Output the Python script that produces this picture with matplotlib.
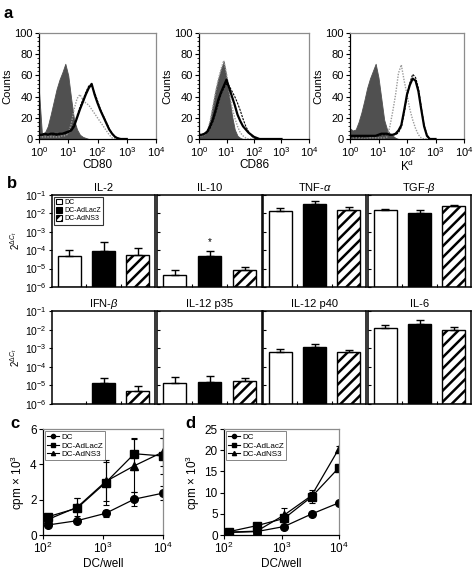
import numpy as np
import matplotlib

matplotlib.use("Agg")

import matplotlib.pyplot as plt
from matplotlib.patches import Patch
from matplotlib.lines import Line2D
from matplotlib.ticker import MultipleLocator, LogLocator, NullFormatter, FixedLocator

plt.rcParams["font.family"] = ["Liberation Sans", "DejaVu Sans"]
plt.rcParams["mathtext.fontset"] = "custom"
plt.rcParams["mathtext.rm"] = "Liberation Sans"
plt.rcParams["mathtext.it"] = "Liberation Sans:italic"
plt.rcParams["mathtext.bf"] = "Liberation Sans:bold"
plt.rcParams["hatch.linewidth"] = 1.8
plt.rcParams["axes.linewidth"] = 0.9

W, H = 474, 570

# ---------------- panel a: flow histograms ----------------
CHANNEL_LOG = [0.0, 0.1, 0.2, 0.3, 0.4, 0.5, 0.6, 0.7, 0.8, 0.9, 1.0,
               1.1, 1.2, 1.3, 1.4, 1.5, 1.6, 1.7, 1.8, 1.9, 2.0,
               2.1, 2.2, 2.3, 2.4, 2.5, 2.6, 2.7, 2.8, 2.9, 3.0]
MARKERS_A = ["CD80", "CD86", r"K$^{\rm d}$"]

CD80_ISO = [45, 5, 6, 12, 23, 35, 47, 56, 63, 71, 60, 38, 18, 9, 4, 2, 1,
            0, 0, 0, 0, 0, 0, 0, 0, 0, 0, 0, 0, 0, 0]
CD80_DC = [2, 2, 2, 2, 2, 2, 2, 2, 3, 3, 5, 14, 28, 38, 42, 37, 34, 32, 28,
           24, 20, 16, 12, 8, 4, 1, 0, 0, 0, 0, 0]
CD80_LACZ = [3, 4, 4, 5, 4, 4, 5, 4, 5, 5, 6, 9, 14, 22, 30, 37, 44, 50, 50,
             44, 36, 28, 22, 16, 10, 5, 2, 1, 0, 0, 0]
CD80_NS3 = [4, 4, 5, 4, 5, 5, 4, 5, 5, 6, 7, 8, 12, 20, 28, 35, 42, 48, 52,
            42, 34, 27, 21, 15, 9, 5, 2, 0.5, 0, 0, 0]

CD86_ISO = [3, 4, 5, 8, 18, 32, 46, 57, 66, 73, 58, 40, 22, 9, 3, 1, 0,
            0, 0, 0, 0, 0, 0, 0, 0, 0, 0, 0, 0, 0, 0]
CD86_DC = [2, 3, 4, 7, 16, 30, 44, 56, 66, 74, 62, 45, 30, 20, 12, 6, 3, 1,
           0, 0, 0, 0, 0, 0, 0, 0, 0, 0, 0, 0, 0]
CD86_LACZ = [3, 4, 5, 6, 10, 16, 24, 33, 42, 48, 52, 50, 45, 40, 34, 27, 19,
             12, 7, 3, 1, 0, 0, 0, 0, 0, 0, 0, 0, 0, 0]
CD86_NS3 = [4, 4, 5, 7, 12, 18, 27, 37, 44, 50, 56, 48, 40, 32, 23, 17, 12,
            9, 6, 4, 2, 1, 0, 0, 0, 0, 0, 0, 0, 0, 0]

KD_ISO = [10, 8, 9, 16, 25, 36, 48, 57, 64, 71, 58, 38, 18, 9, 5, 3, 1, 0,
          0, 0, 0, 0, 0, 0, 0, 0, 0, 0, 0, 0, 0]
KD_DC = [1, 1, 1, 1, 1, 1, 1, 1, 1, 1, 1, 1, 1, 2, 12, 26, 42, 62, 70, 55,
         42, 28, 18, 10, 4, 1, 0, 0, 0, 0, 0]
KD_LACZ = [2, 2, 2, 2, 2, 2, 2, 3, 3, 3, 3, 4, 4, 4, 4, 4, 4, 6, 11, 24, 40,
           53, 61, 58, 48, 30, 13, 4, 0, 0, 0]
KD_NS3 = [3, 3, 3, 3, 3, 3, 3, 3, 3, 3, 4, 5, 5, 5, 4, 4, 5, 8, 13, 27, 42,
          51, 57, 55, 45, 28, 12, 3, 0, 0, 0]

# ---------------- panel b: cytokine mRNA ----------------
CYTOKINES = ["IL-2", "IL-10", r"TNF-$\alpha$", r"TGF-$\beta$",
             r"IFN-$\beta$", "IL-12 p35", "IL-12 p40", "IL-6"]
GROUPS = ["DC", "DC-AdLacZ", "DC-AdNS3"]
DC_MEAN = [4.9e-5, 4.6e-6, 1.3e-2, 1.6e-2, np.nan, 1.4e-5, 6.1e-4, 1.2e-2]
DC_UPPER = [1.0e-4, 8.5e-6, 2.0e-2, 1.8e-2, np.nan, 2.8e-5, 9.3e-4, 1.8e-2]
LACZ_MEAN = [9.0e-5, 5.0e-5, 3.2e-2, 1.07e-2, 1.4e-5, 1.5e-5, 1.1e-3, 2.1e-2]
LACZ_UPPER = [2.7e-4, 9.0e-5, 5.0e-2, 1.6e-2, 2.6e-5, 3.3e-5, 1.6e-3, 3.2e-2]
NS3_MEAN = [5.5e-5, 8.5e-6, 1.6e-2, 2.5e-2, 5.2e-6, 1.7e-5, 5.9e-4, 9.6e-3]
NS3_UPPER = [1.4e-4, 1.3e-5, 2.2e-2, 3.0e-2, 9.3e-6, 2.4e-5, 8.5e-4, 1.4e-2]

# ---------------- panels c, d: proliferation ----------------
DC_PER_WELL = [123, 370, 1111, 3333, 10000]
C_DC = [0.57, 0.81, 1.23, 2.03, 2.37]
C_DC_ERR = [0.1, 0.08, 0.2, 0.4, 0.4]
C_LACZ = [1.04, 1.52, 2.97, 4.6, 4.47]
C_LACZ_ERR = [0.15, 0.6, 1.3, 0.9, 1.0]
C_NS3 = [0.89, 1.57, 3.03, 3.92, 4.7]
C_NS3_ERR = [0.1, 0.5, 1.1, 1.5, 0.8]

D_DC = [0.6, 0.8, 2.0, 4.95, 7.6]
D_DC_ERR = [0.1, 0.1, 0.3, 0.4, 0.4]
D_LACZ = [0.8, 2.2, 3.9, 9.0, 15.9]
D_LACZ_ERR = [0.2, 0.3, 0.8, 1.5, 0.5]
D_NS3 = [0.7, 0.9, 4.7, 9.3, 20.4]
D_NS3_ERR = [0.1, 0.2, 1.6, 0.8, 0.6]


fig = plt.figure(figsize=(W / 100, H / 100), dpi=100)


def add_px(left, top, right, bottom):
    return fig.add_axes([left / W, 1 - bottom / H, (right - left) / W, (bottom - top) / H])


def gray_box(ax):
    for side in ("top", "right"):
        ax.spines[side].set_color("#8c8c8c")


# ---- a ----
hist_sets = [
    (CD80_ISO, CD80_DC, CD80_LACZ, CD80_NS3),
    (CD86_ISO, CD86_DC, CD86_LACZ, CD86_NS3),
    (KD_ISO, KD_DC, KD_LACZ, KD_NS3),
]
a_boxes = [(39, 33, 156, 139), (199, 33, 309, 139), (350, 33, 464, 139)]
xs = 10 ** np.array(CHANNEL_LOG)
for (iso, dc, lacz, ns3), box, name in zip(hist_sets, a_boxes, MARKERS_A):
    ax = add_px(*box)
    ax.fill_between(xs, 0, iso, color="#505050", lw=0.6)
    ax.plot(xs, dc, color="#9a9a9a", lw=1.0, ls=(0, (1, 1)))
    ax.plot(xs, lacz, color="black", lw=0.8, ls=(0, (2, 1)))
    ax.plot(xs, ns3, color="black", lw=1.6)
    ax.set_xscale("log")
    ax.set_xlim(1, 1e4)
    ax.set_ylim(0, 100)
    ax.set_yticks([0, 20, 40, 60, 80, 100])
    ax.yaxis.set_minor_locator(MultipleLocator(4))
    ax.set_xticks([1, 10, 100, 1000, 10000])
    ax.xaxis.set_minor_locator(LogLocator(subs=np.arange(2, 10)))
    ax.xaxis.set_minor_formatter(NullFormatter())
    ax.tick_params(labelsize=8, length=3, width=0.8, pad=1.5)
    ax.tick_params(which="minor", length=1.5, width=0.6)
    ax.tick_params(top=False, right=False)
    ax.set_ylabel("Counts", fontsize=8, labelpad=1)
    ax.set_xlabel(name, fontsize=8.5, labelpad=0)
    gray_box(ax)

# ---- b ----
cols = [(52, 155), (157, 262), (263, 366), (368, 471)]
rows = [(195, 287), (311, 404)]
bar_x = [0.5, 1.5, 2.5]
styles = [
    dict(color="white", edgecolor="black", hatch=None),
    dict(color="black", edgecolor="black", hatch=None),
    dict(color="white", edgecolor="black", hatch="///"),
]
series = [(DC_MEAN, DC_UPPER), (LACZ_MEAN, LACZ_UPPER), (NS3_MEAN, NS3_UPPER)]
for i, name in enumerate(CYTOKINES):
    top, bottom = rows[i // 4]
    left, right = cols[i % 4]
    ax = add_px(left, top, right, bottom)
    ax.set_yscale("log")
    ax.set_ylim(1e-6, 1e-1)
    ax.set_xlim(0, 3)
    for x, (means, uppers), st in zip(bar_x, series, styles):
        m, u = means[i], uppers[i]
        if np.isnan(m):
            continue
        ax.bar(x, m - 1e-6, bottom=1e-6, width=0.67, facecolor=st["color"],
               edgecolor=st["edgecolor"], hatch=st["hatch"], lw=1.0, zorder=2)
        ax.errorbar(x, m, yerr=[[0], [u - m]], fmt="none", ecolor="black",
                    elinewidth=1.0, capsize=3, capthick=1.0, zorder=3)
    if i == 1:
        ax.text(1.5, 2.7e-4, "*", ha="center", va="center", fontsize=7)
    ax.set_title(name, fontsize=8, pad=3)
    ax.set_yticks([1e-6, 1e-5, 1e-4, 1e-3, 1e-2, 1e-1])
    ax.yaxis.set_minor_locator(FixedLocator([]))
    ax.xaxis.set_major_locator(FixedLocator([1, 2]))
    ax.tick_params(axis="x", labelbottom=False, direction="in", length=2.5, width=0.8)
    for s in ax.spines.values():
        s.set_linewidth(1.1)
    if i % 4 == 0:
        ax.tick_params(axis="y", labelsize=7.5, length=2.5, width=0.8, pad=1.5)
        ax.set_ylabel(r"$2^{\Delta C_t}$", fontsize=7, labelpad=2)
    else:
        ax.tick_params(axis="y", labelleft=False, direction="in", length=2, width=0.8)
    if i == 0:
        handles = [Patch(facecolor="white", edgecolor="black", lw=0.8),
                   Patch(facecolor="black", edgecolor="black", lw=0.8),
                   Patch(facecolor="white", edgecolor="black", hatch="////", lw=0.8)]
        leg = ax.legend(handles, GROUPS, loc="upper left", fontsize=5,
                        frameon=True, fancybox=False, handlelength=0.8,
                        handleheight=0.8, handletextpad=0.4, borderpad=0.3,
                        labelspacing=0.15, borderaxespad=0.3)
        leg.get_frame().set_edgecolor("black")
        leg.get_frame().set_linewidth(0.8)


# ---- c, d ----
def prolif(ax, dc, dce, lz, lze, ns, nse, ymax, ystep):
    for vals, errs, mk, lab in ((dc, dce, "o", GROUPS[0]), (lz, lze, "s", GROUPS[1]),
                                (ns, nse, "^", GROUPS[2])):
        ax.errorbar(DC_PER_WELL, vals, yerr=errs, color="black", marker=mk, ms=5.5,
                    lw=0.9, elinewidth=0.8, capsize=2.5, capthick=0.8, label=lab)
    ax.set_xscale("log")
    ax.set_xlim(100, 10000)
    ax.set_ylim(0, ymax)
    ax.set_yticks(np.arange(0, ymax + 0.1, ystep))
    ax.set_xticks([100, 1000, 10000])
    ax.xaxis.set_minor_locator(FixedLocator([]))
    ax.tick_params(labelsize=8.5, length=3, width=0.8, pad=1.5, top=False, right=False)
    ax.set_ylabel(r"cpm $\times$ 10$^3$", fontsize=8.5, labelpad=2)
    ax.set_xlabel("DC/well", fontsize=8.5, labelpad=1)
    gray_box(ax)
    handles = [Line2D([], [], color="black", marker=m, ms=3, lw=0.8) for m in ("o", "s", "^")]
    leg = ax.legend(handles, GROUPS, loc="upper left", fontsize=5.8, frameon=True,
                    fancybox=False, handlelength=1.4, handletextpad=0.3,
                    borderpad=0.25, labelspacing=0.1, borderaxespad=0.3)
    leg.get_frame().set_edgecolor("#666666")
    leg.get_frame().set_linewidth(0.7)


axc = add_px(43, 429, 163, 535)
prolif(axc, C_DC, C_DC_ERR, C_LACZ, C_LACZ_ERR, C_NS3, C_NS3_ERR, 6, 2)
axd = add_px(224, 429, 339, 535)
prolif(axd, D_DC, D_DC_ERR, D_LACZ, D_LACZ_ERR, D_NS3, D_NS3_ERR, 25, 5)

# panel letters
for lab, x, y in (("a", 8, 14), ("b", 12, 183), ("c", 15, 424), ("d", 190, 424)):
    fig.text(x / W, 1 - y / H, lab, fontsize=12, fontweight="bold", ha="center", va="center")

fig.savefig("out.png", dpi=100)
